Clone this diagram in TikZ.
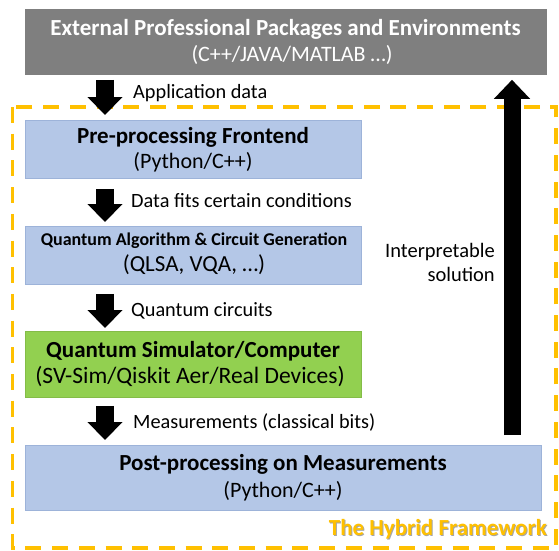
\documentclass[tikz,border=0pt]{standalone}
\usepackage{fontspec}
\setmainfont{Carlito}
\usetikzlibrary{arrows.meta}
\definecolor{extgray}{HTML}{7F7F7F}
\definecolor{boxblue}{HTML}{B4C7E7}
\definecolor{blueline}{HTML}{9DB3D9}
\definecolor{boxgreen}{HTML}{92D050}
\definecolor{greenline}{HTML}{84BC48}
\definecolor{gold}{HTML}{FFC000}
\tikzset{
  x=1pt, y=-1pt,
  blk/.style={draw=#1, line width=0.8pt, anchor=north west, inner sep=0pt},
  ttl/.style={font=\fontsize{23}{26}\selectfont\bfseries, inner sep=0pt},
  sub/.style={font=\fontsize{22}{25}\selectfont, inner sep=0pt},
  lbl/.style={font=\fontsize{20.3}{23}\selectfont, inner sep=0pt, anchor=west},
  downarrow/.style={line width=18pt, -{Triangle[width=34pt,length=18pt]}},
  uparrow/.style={line width=17pt, -{Triangle[width=35pt,length=19pt]}},
}
\begin{document}
\begin{tikzpicture}
\useasboundingbox (0,0) rectangle (559,550);
% hybrid framework frame
\draw[gold, line width=3.5pt, dash pattern=on 16pt off 10.7pt] (12.5,107) rectangle (556,548);
\node[font=\fontsize{23}{26}\selectfont\bfseries, text=black!35, inner sep=0pt, anchor=east] (hybshadow) at (548,530) {The Hybrid Framework};
\node[font=\fontsize{23}{26}\selectfont\bfseries, text=gold, inner sep=0pt, anchor=east] (hyb) at (547,529) {The Hybrid Framework};
% boxes
\node[blk=extgray, fill=extgray, minimum width=521, minimum height=65] (ext) at (25,9) {};
\node[blk=blueline, fill=boxblue, minimum width=336, minimum height=58] (pre) at (25,120) {};
\node[blk=blueline, fill=boxblue, minimum width=336, minimum height=58] (qa) at (25,226) {};
\node[blk=greenline, fill=boxgreen, minimum width=336, minimum height=66] (sim) at (25,331) {};
\node[blk=blueline, fill=boxblue, minimum width=516, minimum height=65] (post) at (25,445) {};
% texts
\node[ttl, text=white] (ext1) at (285.5,29) {External Professional Packages and Environments};
\node[sub, text=white] (ext2) at (292,55) {(C++/JAVA/MATLAB …)};
\node[ttl] (pre1) at (193,137) {Pre-processing Frontend};
\node[sub] (pre2) at (193,162) {(Python/C++)};
\node[ttl, font=\fontsize{18}{21}\selectfont\bfseries] (qa1) at (194,241) {Quantum Algorithm \& Circuit Generation};
\node[sub, font=\fontsize{23}{26}\selectfont] (qa2) at (194,265) {(QLSA, VQA, …)};
\node[ttl] (sim1) at (193,351) {Quantum Simulator/Computer};
\node[sub, font=\fontsize{23.5}{26}\selectfont] (sim2) at (190,377) {(SV-Sim/Qiskit Aer/Real Devices)};
\node[ttl] (post1) at (283,464) {Post-processing on Measurements};
\node[sub] (post2) at (283,491) {(Python/C++)};
% arrows
\draw[downarrow, shorten <=5pt, shorten >=5pt] (ext.south -| 105,0) -- (pre.north -| 105,0);
\draw[downarrow, shorten <=10pt, shorten >=4pt] (pre.south -| 105,0) -- (qa.north -| 105,0);
\draw[downarrow, shorten <=9pt, shorten >=3pt] (qa.south -| 105,0) -- (sim.north -| 105,0);
\draw[downarrow, shorten <=8pt, shorten >=5pt] (sim.south -| 105,0) -- (post.north -| 105,0);
\draw[uparrow, shorten <=10pt, shorten >=5pt] (post.north -| 512,0) -- (ext.south -| 512,0);
% labels
\node[lbl] (l1) at (133,93) {Application data};
\node[lbl] (l2) at (131,201) {Data fits certain conditions};
\node[lbl] (l3) at (131,311) {Quantum circuits};
\node[lbl] (l4) at (133,422) {Measurements (classical bits)};
\node[font=\fontsize{20.5}{24}\selectfont, align=right, inner sep=0pt, anchor=east] (interp) at (495,262) {Interpretable\\solution};
\end{tikzpicture}
\end{document}
